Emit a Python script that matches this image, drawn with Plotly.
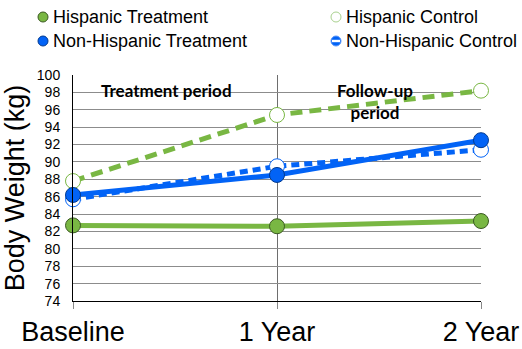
import plotly.graph_objects as go

categories = ["Baseline", "1 Year", "2 Year"]
hisp_treat = [82.7, 82.6, 83.2]
hisp_ctrl = [87.8, 95.4, 98.2]
nonhisp_treat = [86.2, 88.5, 92.5]
nonhisp_ctrl = [85.7, 89.5, 91.4]
y_ticks = list(range(74, 101, 2))
series_names = ["Hispanic Treatment", "Hispanic Control",
                "Non-Hispanic Treatment", "Non-Hispanic Control"]

GREEN = "#79B743"
BLUE = "#0263F6"
FONT = "Liberation Sans, Arial, sans-serif"

fig = go.Figure()

# control (dashed) lines first
fig.add_trace(go.Scatter(
    x=categories, y=hisp_ctrl, mode="lines+markers", name=series_names[1],
    line=dict(color=GREEN, width=5, dash="12px,7px"),
    marker=dict(size=15, color="white", line=dict(color=GREEN, width=1)),
    cliponaxis=False))
fig.add_trace(go.Scatter(
    x=categories, y=nonhisp_ctrl, mode="lines+markers", name=series_names[3],
    line=dict(color=BLUE, width=5, dash="8px,5px"),
    marker=dict(size=15, color="white", line=dict(color=BLUE, width=1)),
    cliponaxis=False))
fig.add_trace(go.Scatter(
    x=categories, y=hisp_treat, mode="lines+markers", name=series_names[0],
    line=dict(color=GREEN, width=5),
    marker=dict(size=15, color=GREEN, line=dict(color="#3B5A22", width=1)),
    cliponaxis=False))
fig.add_trace(go.Scatter(
    x=categories, y=nonhisp_treat, mode="lines+markers", name=series_names[2],
    line=dict(color=BLUE, width=5),
    marker=dict(size=15, color=BLUE, line=dict(color="#023A8F", width=1)),
    cliponaxis=False))

# plot area lands at screen x 73..481, y 75..301 (body margin removed below)
W, H = 522, 349
ML, MR, MT, MB = 73, 41, 75, 48
PW, PH = 408, 226

def px_x(p):  # screen px -> paper
    return (p - ML) / PW

def px_y(p):
    return (H - MB - p) / PH

legend_pos = [(43, 17), (336, 17), (43, 41), (336, 41)]
legend_marker = [
    dict(fill=GREEN, line="#3B5A22"),
    dict(fill="white", line="#A9D18E"),
    dict(fill=BLUE, line="#023A8F"),
    dict(fill=BLUE, line="#5B95F8"),
]
for name, (mx, my), mk in zip(series_names, legend_pos, legend_marker):
    fig.add_shape(type="circle", xref="paper", yref="paper",
                  xsizemode="pixel", ysizemode="pixel",
                  xanchor=px_x(mx), yanchor=px_y(my),
                  x0=-5, x1=5, y0=-5, y1=5,
                  fillcolor=mk["fill"], line=dict(color=mk["line"], width=1))
    fig.add_annotation(xref="paper", yref="paper", x=px_x(mx + 8), y=px_y(my),
                       xanchor="left", yanchor="middle", showarrow=False,
                       text=name, font=dict(size=18, family=FONT, color="black"))
# white band on the Non-Hispanic Control legend marker
fig.add_shape(type="rect", xref="paper", yref="paper",
              xsizemode="pixel", ysizemode="pixel",
              xanchor=px_x(336), yanchor=px_y(41),
              x0=-4, x1=4, y0=-1.2, y1=1.2,
              fillcolor="white", line=dict(width=0))

fig.add_annotation(x=0.46, y=98.2, text="<b>Treatment period</b>", showarrow=False,
                   font=dict(family="Lato", size=17, color="black"))
fig.add_annotation(x=1.48, y=97.0, text="<b>Follow-up<br>period</b>", showarrow=False,
                   font=dict(family="Lato", size=17, color="black"))

fig.update_layout(
    width=W, height=H,
    margin=dict(l=ML, r=MR, t=MT, b=MB),
    paper_bgcolor="white", plot_bgcolor="white",
    font=dict(family=FONT, color="black"),
    showlegend=False,
    xaxis=dict(range=[0, 2], showgrid=True, gridcolor="#6E6E6E", gridwidth=1,
               showline=True, linecolor="black", linewidth=1,
               ticks="outside", ticklen=7, tickcolor="#888888",
               tickfont=dict(size=27, family=FONT), automargin=False),
    yaxis=dict(range=[74, 100], tickvals=y_ticks, showgrid=True,
               gridcolor="#8C8C8C", gridwidth=1,
               showline=True, linecolor="black", linewidth=1,
               ticks="", ticklabelstandoff=9, automargin=False,
               tickfont=dict(size=14, family=FONT),
               title=dict(text="Body Weight (kg)", font=dict(size=27, family=FONT),
                          standoff=4)),
)

fig.write_html("out.html",
               config={"displayModeBar": False},
               post_script="document.body.style.margin='0';"
                           "document.body.style.overflow='hidden';")
